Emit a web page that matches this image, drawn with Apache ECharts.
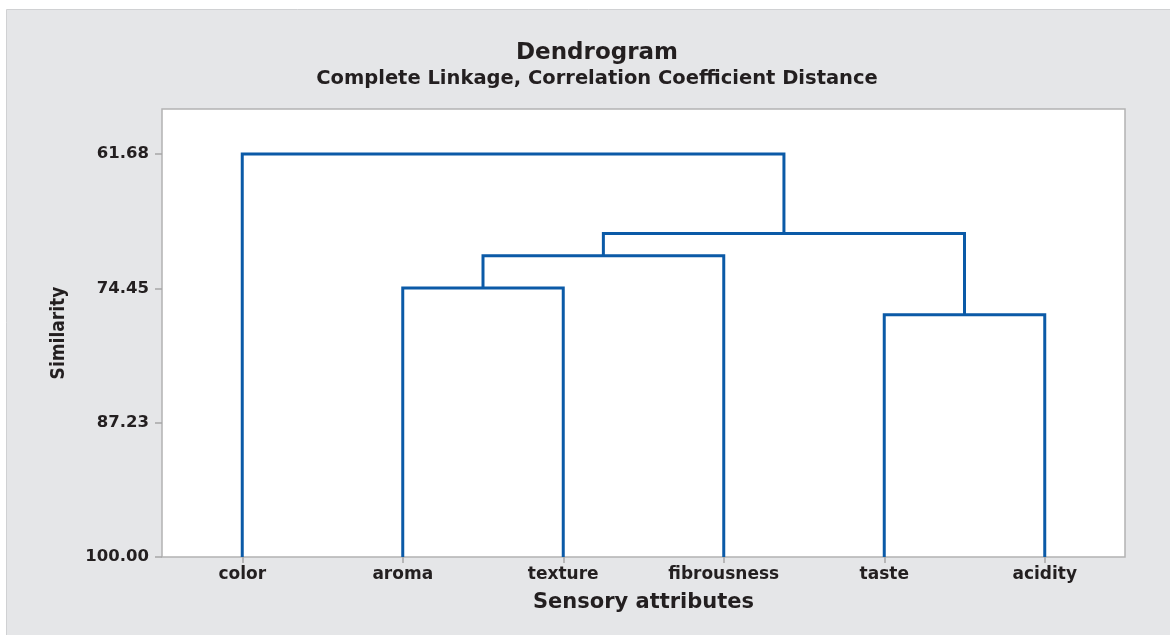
<!DOCTYPE html>
<html>
<head>
<meta charset="utf-8">
<script src="https://cdn.jsdelivr.net/npm/echarts@6/dist/echarts.min.js"></script>
<style>
  html, body { margin: 0; padding: 0; background: #fff; }
  #chart { width: 1170px; height: 635px; }
</style>
</head>
<body>
<div id="chart"></div>
<script>
// leaves in plot order, left to right
var leaves = ['color', 'aroma', 'texture', 'fibrousness', 'taste', 'acidity']
// merges: [left node, right node, similarity] ; nodes >= 6 are earlier merges (6 + index)
var mergeLeft = [1, 4, 6, 8, 0]
var mergeRight = [2, 5, 3, 7, 9]
var mergeSim = [74.42, 76.96, 71.35, 69.23, 61.68]
var yTicks = [61.68, 74.45, 87.23, 100.00]

var lineColor = '#0b5aa7'
var font = 'DejaVu Sans'

// node positions: leaves sit at their index, clusters at midpoint of children
var nodeX = leaves.map(function (d, i) { return i })
var nodeY = leaves.map(function () { return 100 })
var series = []
for (var i = 0; i < mergeSim.length; i++) {
    var l = mergeLeft[i], r = mergeRight[i], h = mergeSim[i]
    series.push({
        type: 'line',
        symbol: 'none',
        silent: true,
        lineStyle: { color: lineColor, width: 3, join: 'miter' },
        data: [[nodeX[l], nodeY[l]], [nodeX[l], h], [nodeX[r], h], [nodeX[r], nodeY[r]]]
    })
    nodeX.push((nodeX[l] + nodeX[r]) / 2)
    nodeY.push(h)
}

var myChart = echarts.init(document.getElementById('chart'))
var option = {
    animation: false,
    backgroundColor: '#fff',
    graphic: [{
        type: 'rect',
        z: -10,
        shape: { x: 6.5, y: 9.5, width: 1170, height: 630 },
        style: { fill: '#e5e6e8', stroke: '#d0d1d3', lineWidth: 1 }
    }],
    title: {
        text: 'Dendrogram',
        subtext: 'Complete Linkage, Correlation Coefficient Distance',
        left: 592,
        textAlign: 'center',
        top: 37,
        itemGap: 4,
        textStyle: { fontFamily: font, fontWeight: 'bold', fontSize: 23, color: '#231f20' },
        subtextStyle: { fontFamily: font, fontWeight: 'bold', fontSize: 19.5, color: '#231f20' }
    },
    grid: {
        left: 162, right: 45, top: 109, bottom: 78,
        show: true,
        backgroundColor: '#fff',
        borderColor: '#b3b3b3',
        borderWidth: 1.5
    },
    xAxis: {
        type: 'value',
        min: -0.5,
        max: 5.5,
        name: 'Sensory attributes',
        nameLocation: 'middle',
        nameGap: 35,
        nameTextStyle: { fontFamily: font, fontWeight: 'bold', fontSize: 21, color: '#231f20' },
        axisLine: { show: false, onZero: false },
        splitLine: { show: false },
        axisTick: {
            show: true, length: 6, customValues: [0, 1, 2, 3, 4, 5],
            lineStyle: { color: '#a6a6a6', width: 1.5 }
        },
        axisLabel: {
            customValues: [0, 1, 2, 3, 4, 5],
            formatter: function (v) { return leaves[Math.round(v)] },
            fontFamily: font, fontWeight: 'bold', fontSize: 17, color: '#231f20', margin: 9
        }
    },
    yAxis: {
        type: 'value',
        inverse: true,
        min: 57.4,
        max: 100,
        name: 'Similarity',
        nameLocation: 'middle',
        nameGap: 93,
        nameTextStyle: { fontFamily: 'DejaVu Sans Condensed', fontWeight: 'bold', fontSize: 19, color: '#231f20' },
        axisLine: { show: false, onZero: false },
        splitLine: { show: false },
        axisTick: {
            show: true, length: 7, customValues: yTicks,
            lineStyle: { color: '#a6a6a6', width: 1.5 }
        },
        axisLabel: {
            customValues: yTicks,
            formatter: function (v) { return v.toFixed(2) },
            fontFamily: font, fontWeight: 'bold', fontSize: 16.5, color: '#231f20', margin: 13
        }
    },
    series: series
}
myChart.setOption(option)
</script>
</body>
</html>
